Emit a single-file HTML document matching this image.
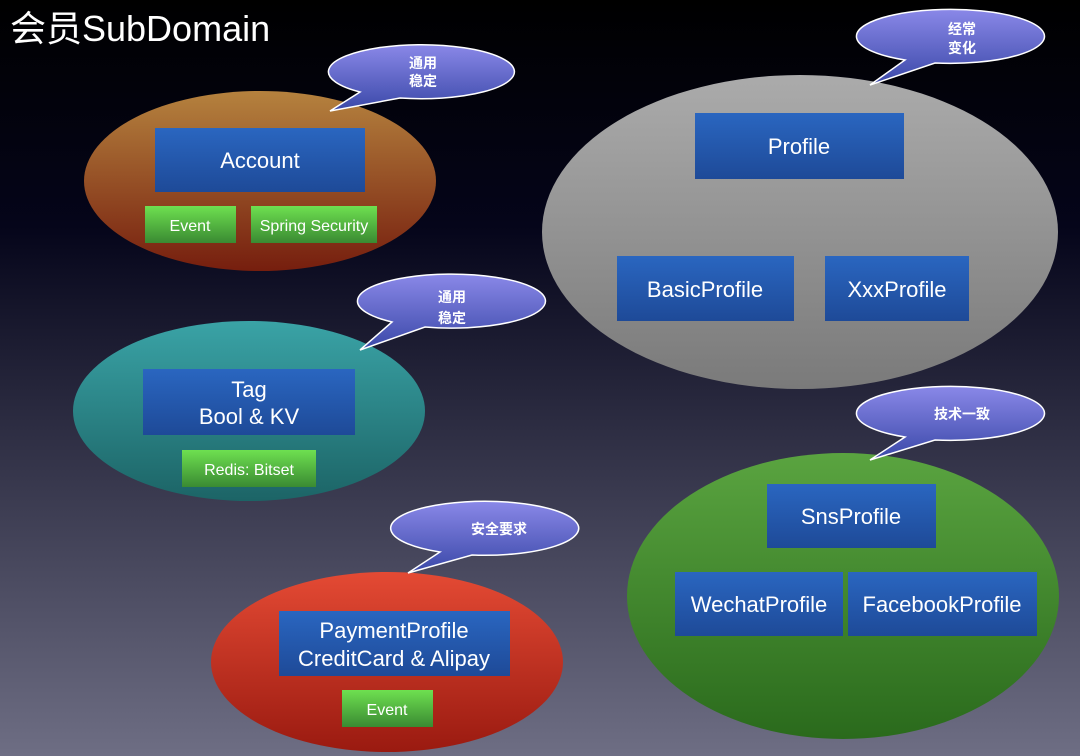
<!DOCTYPE html>
<html><head><meta charset="utf-8"><style>
html,body{margin:0;padding:0;width:1080px;height:756px;overflow:hidden;background:#000}
svg{display:block}
text{font-family:"Liberation Sans","Noto Sans CJK SC",sans-serif;fill:#fff}
</style></head><body>
<svg width="1080" height="756" xmlns="http://www.w3.org/2000/svg">
<defs>
<linearGradient id="bg" x1="0" y1="0" x2="0" y2="1"><stop offset="0" stop-color="#000"/><stop offset="0.3" stop-color="#05051a"/><stop offset="1" stop-color="#6e6e84"/></linearGradient>
<linearGradient id="or" x1="0" y1="0" x2="0" y2="1"><stop offset="0" stop-color="#b5823e"/><stop offset="1" stop-color="#761e0e"/></linearGradient>
<linearGradient id="gr" x1="0" y1="0" x2="0" y2="1"><stop offset="0" stop-color="#ababab"/><stop offset="1" stop-color="#7a7a7a"/></linearGradient>
<linearGradient id="te" x1="0" y1="0" x2="0" y2="1"><stop offset="0" stop-color="#3aa3a6"/><stop offset="1" stop-color="#1c6466"/></linearGradient>
<linearGradient id="rd" x1="0" y1="0" x2="0" y2="1"><stop offset="0" stop-color="#e44a34"/><stop offset="1" stop-color="#9a1a10"/></linearGradient>
<linearGradient id="gn" x1="0" y1="0" x2="0" y2="1"><stop offset="0" stop-color="#5aa440"/><stop offset="1" stop-color="#2a6a1c"/></linearGradient>
<linearGradient id="bl" x1="0" y1="0" x2="0" y2="1"><stop offset="0" stop-color="#2a66c0"/><stop offset="1" stop-color="#1e4a98"/></linearGradient>
<linearGradient id="lg" x1="0" y1="0" x2="0" y2="1"><stop offset="0" stop-color="#6ee050"/><stop offset="1" stop-color="#3a8a32"/></linearGradient>
<linearGradient id="bb" x1="0" y1="0" x2="0" y2="1"><stop offset="0" stop-color="#8a88e8"/><stop offset="1" stop-color="#3a48a8"/></linearGradient>
</defs>
<rect width="1080" height="756" fill="url(#bg)"/>
<text x="10" y="41" font-size="36">会员SubDomain</text>

<ellipse cx="260" cy="181" rx="176" ry="90" fill="url(#or)"/>
<ellipse cx="800" cy="232" rx="258" ry="157" fill="url(#gr)"/>
<ellipse cx="249" cy="411" rx="176" ry="90" fill="url(#te)"/>
<ellipse cx="387" cy="662" rx="176" ry="90" fill="url(#rd)"/>
<ellipse cx="843" cy="596" rx="216" ry="143" fill="url(#gn)"/>

<g stroke="#fff" stroke-width="1.5" fill="url(#bb)">
<path d="M360,92 A93,27 0 1 1 400,98 L330,111 Z"/>
<path d="M905,60 A94,27 0 1 1 935,63 L870,85 Z"/>
<path d="M392,322 A94,27 0 1 1 425,327 L360,350 Z"/>
<path d="M905,437 A94,27 0 1 1 935,440 L870,460 Z"/>
<path d="M440,552 A94,27 0 1 1 472,555 L408,573 Z"/>
</g>
<g font-size="14" font-weight="bold" text-anchor="middle">
<text x="423" y="68">通用</text><text x="423" y="86">稳定</text>
<text x="962" y="34">经常</text><text x="962" y="53">变化</text>
<text x="452" y="302">通用</text><text x="452" y="323">稳定</text>
<text x="962" y="419">技术一致</text>
<text x="499" y="534">安全要求</text>
</g>

<g fill="url(#bl)">
<rect x="155" y="128" width="210" height="64"/>
<rect x="695" y="113" width="209" height="66"/>
<rect x="617" y="256" width="177" height="65"/>
<rect x="825" y="256" width="144" height="65"/>
<rect x="143" y="369" width="212" height="66"/>
<rect x="279" y="611" width="231" height="65"/>
<rect x="767" y="484" width="169" height="64"/>
<rect x="675" y="572" width="168" height="64"/>
<rect x="848" y="572" width="189" height="64"/>
</g>
<g fill="url(#lg)">
<rect x="145" y="206" width="91" height="37"/>
<rect x="251" y="206" width="126" height="37"/>
<rect x="182" y="450" width="134" height="37"/>
<rect x="342" y="690" width="91" height="37"/>
</g>
<g font-size="22" text-anchor="middle">
<text x="260" y="168">Account</text>
<text x="799" y="154">Profile</text>
<text x="705" y="297">BasicProfile</text>
<text x="897" y="297">XxxProfile</text>
<text x="249" y="397">Tag</text>
<text x="249" y="424">Bool &amp; KV</text>
<text x="394" y="638">PaymentProfile</text>
<text x="394" y="666">CreditCard &amp; Alipay</text>
<text x="851" y="524">SnsProfile</text>
<text x="759" y="612">WechatProfile</text>
<text x="942" y="612">FacebookProfile</text>
</g>
<g font-size="16" text-anchor="middle">
<text x="190" y="231">Event</text>
<text x="314" y="231">Spring Security</text>
<text x="249" y="475">Redis: Bitset</text>
<text x="387" y="715">Event</text>
</g>
</svg>
</body></html>
